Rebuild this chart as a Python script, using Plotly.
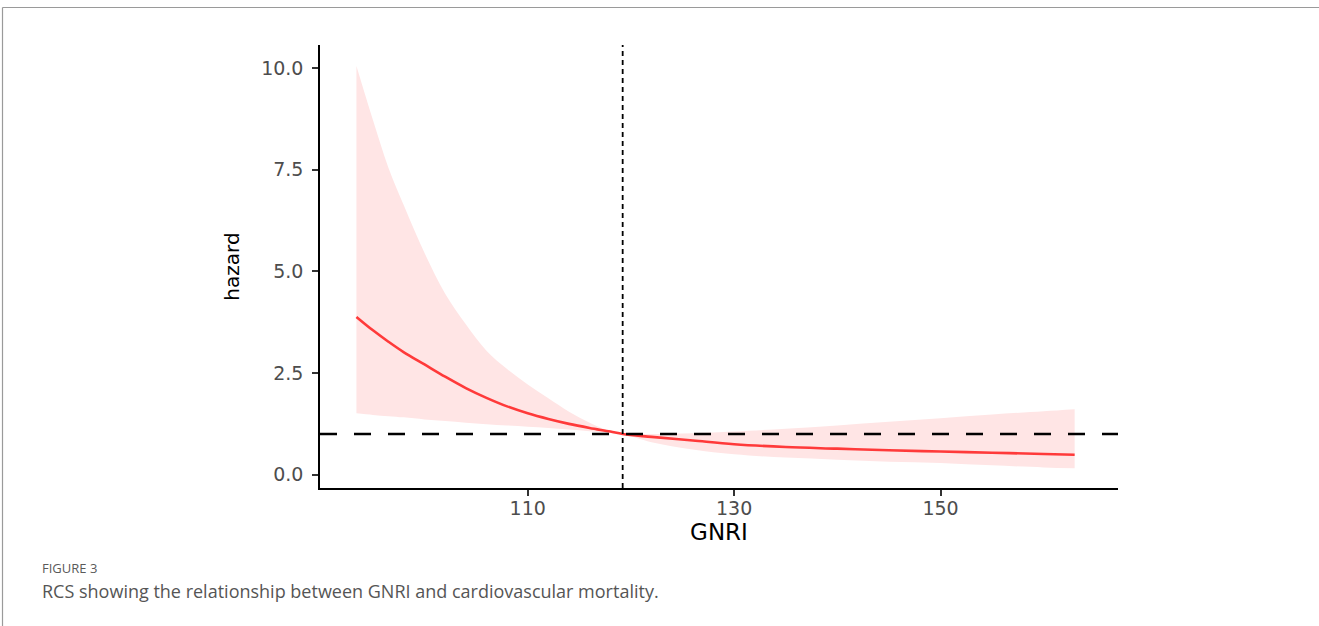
import plotly.graph_objects as go

# ---- data ----
gnri = [93.4, 95, 96.5, 98, 100, 102, 104, 106, 108, 110, 112, 114, 116, 118, 119.2,
        122, 126, 130, 135, 140, 145, 150, 155, 160, 163]
hazard = [3.88, 3.55, 3.27, 3.01, 2.71, 2.41, 2.13, 1.89, 1.68, 1.51, 1.37, 1.25, 1.15, 1.06, 1.00,
          0.93, 0.84, 0.75, 0.68, 0.64, 0.60, 0.57, 0.54, 0.51, 0.49]
upper = [10.05, 8.72, 7.55, 6.62, 5.45, 4.45, 3.70, 3.05, 2.60, 2.22, 1.88, 1.55, 1.28, 1.07, 1.00,
         1.00, 1.02, 1.06, 1.13, 1.21, 1.30, 1.39, 1.48, 1.56, 1.61]
lower = [1.51, 1.47, 1.44, 1.41, 1.36, 1.32, 1.28, 1.24, 1.21, 1.18, 1.15, 1.11, 1.07, 1.03, 1.00,
         0.80, 0.62, 0.50, 0.42, 0.37, 0.32, 0.29, 0.23, 0.18, 0.16]
ref_x = 119.2
ref_y = 1.0
x_ticks = [110, 130, 150]
y_ticks = [0.0, 2.5, 5.0, 7.5, 10.0]
y_tick_labels = ["0.0", "2.5", "5.0", "7.5", "10.0"]

fig = go.Figure()
fig.add_trace(go.Scatter(x=gnri, y=lower, mode="lines", line=dict(width=0, color="rgba(0,0,0,0)", shape="spline"),
                         showlegend=False, hoverinfo="skip"))
fig.add_trace(go.Scatter(x=gnri, y=upper, mode="lines", line=dict(width=0, color="rgba(0,0,0,0)", shape="spline"),
                         fill="tonexty", fillcolor="#FFE5E5", showlegend=False, hoverinfo="skip"))
fig.add_trace(go.Scatter(x=gnri, y=hazard, mode="lines", line=dict(width=2.6, color="#FF3A3A", shape="spline"),
                         showlegend=False))

# reference lines
fig.add_shape(type="line", xref="paper", x0=0, x1=1, yref="y", y0=ref_y, y1=ref_y,
              line=dict(color="black", width=2.6, dash="17px,17px"), layer="above")
fig.add_shape(type="line", xref="x", x0=ref_x, x1=ref_x, yref="paper", y0=0, y1=1,
              line=dict(color="black", width=1.8, dash="5px,4px"), layer="above")

# outer figure frame (gray)
W, H = 1319, 626
L, R, T, B = 320, 1118, 45, 488
pw, ph = R - L, B - T
def px(x): return (x - L) / pw
def py(y): return (B - y) / ph
fig.add_shape(type="line", xref="paper", yref="paper", x0=px(2.5), x1=px(1330), y0=py(7.5), y1=py(7.5),
              line=dict(color="#9A9A9A", width=1.2))
fig.add_shape(type="line", xref="paper", yref="paper", x0=px(2.5), x1=px(2.5), y0=py(7.5), y1=py(640),
              line=dict(color="#9A9A9A", width=1.2))

fig.add_annotation(text="FIGURE 3", xref="paper", yref="paper", x=px(40), y=py(568),
                   xanchor="left", yanchor="middle", showarrow=False,
                   font=dict(family="Open Sans", size=13, color="#5A5A5A"))
fig.add_annotation(text="RCS showing the relationship between GNRI and cardiovascular mortality.",
                   xref="paper", yref="paper", x=px(40), y=py(591),
                   xanchor="left", yanchor="middle", showarrow=False,
                   font=dict(family="Open Sans", size=18, color="#555555"))

fig.update_layout(
    width=W, height=H,
    margin=dict(l=L, r=W - R, t=T, b=H - B),
    paper_bgcolor="white", plot_bgcolor="white",
    xaxis=dict(range=[89.87, 167.2], tickvals=x_ticks, showgrid=False, zeroline=False,
               showline=True, linecolor="black", linewidth=1.5,
               ticks="outside", ticklen=6, tickwidth=1.5, tickcolor="#333333",
               ticklabelstandoff=-4,
               tickfont=dict(family="DejaVu Sans", size=19, color="#4D4D4D"),
               title=dict(text="GNRI", font=dict(family="DejaVu Sans", size=23, color="black"),
                          standoff=0)),
    yaxis=dict(range=[-0.327, 10.565], tickvals=y_ticks, ticktext=y_tick_labels,
               showgrid=False, zeroline=False,
               showline=True, linecolor="black", linewidth=1.5,
               ticks="outside", ticklen=6, tickwidth=1.5, tickcolor="#333333",
               ticklabelstandoff=5,
               tickfont=dict(family="DejaVu Sans", size=19, color="#4D4D4D"),
               title=dict(text="hazard", font=dict(family="DejaVu Sans", size=20, color="black"),
                          standoff=16)),
)

fig.write_html("out.html", config={"displayModeBar": False},
               post_script="document.body.style.margin='0';")
